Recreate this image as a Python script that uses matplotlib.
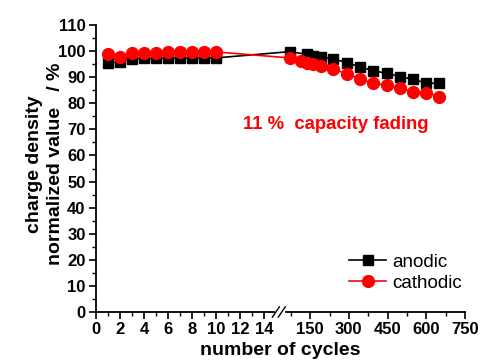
import numpy as np
import matplotlib
matplotlib.use('Agg')
import matplotlib.pyplot as plt

plt.rcParams['font.family'] = ['Liberation Sans', 'DejaVu Sans']

# data
anodic_x = [1, 2, 3, 4, 5, 6, 7, 8, 9, 10,
            70, 138, 161, 193, 239, 293, 344, 394, 448, 499, 549, 600, 650]
anodic_y = [95.3, 96.0, 97.0, 97.2, 97.2, 97.5, 97.2, 97.4, 97.4, 97.4,
            99.8, 98.8, 98.3, 97.8, 97.0, 95.6, 93.9, 92.5, 91.5, 90.2, 89.2, 87.7, 87.7]

cathodic_x = [1, 2, 3, 4, 5, 6, 7, 8, 9, 10,
              70, 115, 138, 161, 193, 239, 293, 344, 394, 448, 499, 549, 600, 650]
cathodic_y = [98.8, 97.8, 99.2, 99.3, 99.4, 99.6, 99.7, 99.7, 99.7, 99.7,
              97.4, 96.1, 95.6, 95.1, 94.3, 93.0, 91.4, 89.2, 87.7, 86.9, 85.8, 84.4, 84.1, 82.6]

left_ticks = [0, 2, 4, 6, 8, 10, 12, 14]
right_ticks = [150, 300, 450, 600, 750]
y_ticks = list(range(0, 111, 10))

# broken x axis: 0-15 linear, short gap, then 30-750 compressed
brk_x = [-100, 0, 15, 30, 750, 1500]
brk_f = [-100, 0, 15, 15.258, 30.725, 30.725 + 750 * 0.0215]

def forward(x):
    return np.interp(x, brk_x, brk_f)

def inverse(f):
    return np.interp(f, brk_f, brk_x)

fig = plt.figure(figsize=(4.81, 3.63), dpi=100)
ax = fig.add_axes([0.1996, 0.1405, 0.767, 0.7905])
ax.set_xscale('function', functions=(forward, inverse))

ax.plot(anodic_x, anodic_y, color='black', marker='s', markersize=7.5, lw=1.2, label='anodic')
ax.plot(cathodic_x, cathodic_y, color='red', marker='o', markersize=8.5, lw=1.2, label='cathodic')

ax.set_xlim(0, 750)
ax.set_ylim(0, 110)
ax.set_xticks(left_ticks + right_ticks)
ax.set_xticks([1, 3, 5, 7, 9, 11, 13, 75, 225, 375, 525, 675], minor=True)
ax.set_yticks(y_ticks)
ax.set_yticks(list(range(5, 110, 10)), minor=True)

for s in ['top', 'right']:
    ax.spines[s].set_visible(False)
for s in ['left', 'bottom']:
    ax.spines[s].set_linewidth(1.3)

ax.tick_params(which='major', direction='out', length=5, width=1.2, labelsize=12, pad=2.5)
ax.tick_params(which='minor', direction='out', length=3, width=1.0)
for lab in ax.get_xticklabels() + ax.get_yticklabels():
    lab.set_fontweight('bold')

ax.set_xlabel('number of cycles', fontsize=14, fontweight='bold')
ax.xaxis.set_label_coords(0.5, -0.105)
ax.set_ylabel('charge density\nnormalized value   / %', fontsize=14, fontweight='bold',
              linespacing=1.3)
ax.yaxis.set_label_coords(-0.087, 0.515)

# break marks on the x axis
kw = dict(transform=ax.transAxes, clip_on=False)
ax.plot([0.4905, 0.5065], [0, 0], color='white', lw=3, zorder=5, **kw)
ax.plot([0.478, 0.497], [-0.018, 0.018], color='black', lw=1.0, zorder=6, **kw)
ax.plot([0.494, 0.513], [-0.018, 0.018], color='black', lw=1.0, zorder=6, **kw)

ax.text(0.398, 0.655, '11 %  capacity fading', transform=ax.transAxes, color='red',
        fontsize=13.3, fontweight='bold', va='center', ha='left')

ax.legend(loc='lower right', frameon=False, fontsize=13.5, handlelength=2.0,
          labelspacing=0.2, handletextpad=0.3,
          borderaxespad=0.3, bbox_to_anchor=(1.027, 0.025))

fig.savefig('out.png', dpi=100)
